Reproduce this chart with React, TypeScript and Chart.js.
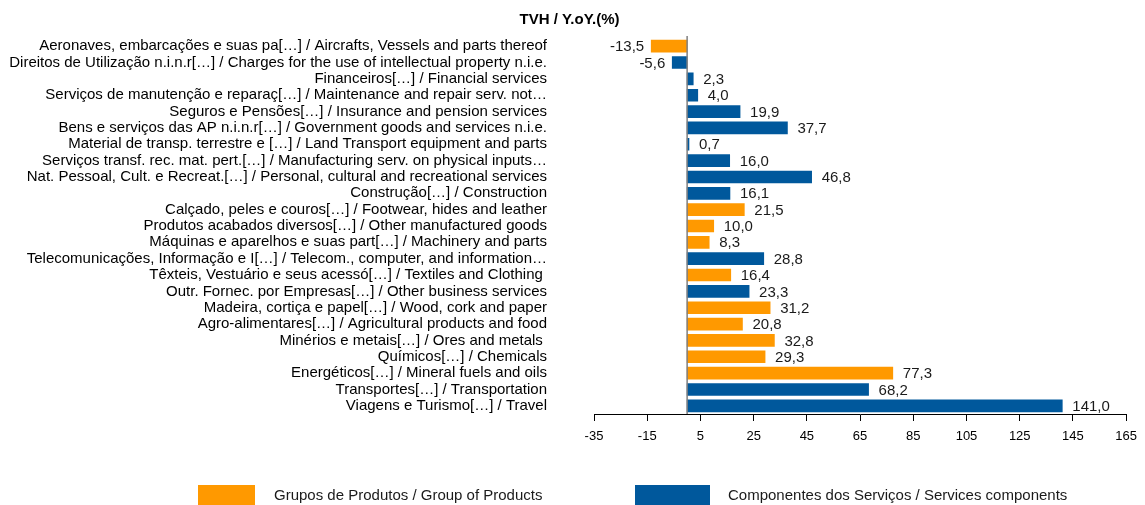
import React, { useEffect, useRef } from "react";
import { Chart, registerables } from "chart.js";

Chart.register(...registerables);

const TITLE = "TVH / Y.oY.(%)";

const categories: string[] = [
  "Aeronaves, embarcações e suas pa[…] / Aircrafts, Vessels and parts thereof",
  "Direitos de Utilização n.i.n.r[…] / Charges for the use of intellectual property n.i.e.",
  "Financeiros[…] / Financial services",
  "Serviços de manutenção e reparaç[…] / Maintenance and repair serv. not…",
  "Seguros e Pensões[…] / Insurance and pension services",
  "Bens e serviços das AP n.i.n.r[…] / Government goods and services n.i.e.",
  "Material de transp. terrestre e […] / Land Transport equipment and parts",
  "Serviços transf. rec. mat. pert.[…] / Manufacturing serv. on physical inputs…",
  "Nat. Pessoal, Cult. e Recreat.[…] / Personal, cultural and recreational services",
  "Construção[…] / Construction",
  "Calçado, peles e couros[…] / Footwear, hides and leather",
  "Produtos acabados diversos[…] / Other manufactured goods",
  "Máquinas e aparelhos e suas part[…] / Machinery and parts",
  "Telecomunicações, Informação e I[…] / Telecom., computer, and information…",
  "Têxteis, Vestuário e seus acessó[…] / Textiles and Clothing ",
  "Outr. Fornec. por Empresas[…] / Other business services",
  "Madeira, cortiça e papel[…] / Wood, cork and paper",
  "Agro-alimentares[…] / Agricultural products and food",
  "Minérios e metais[…] / Ores and metals ",
  "Químicos[…] / Chemicals",
  "Energéticos[…] / Mineral fuels and oils",
  "Transportes[…] / Transportation",
  "Viagens e Turismo[…] / Travel",
];

const values: number[] = [
  -13.5, -5.6, 2.3, 4.0, 19.9, 37.7, 0.7, 16.0, 46.8, 16.1, 21.5, 10.0, 8.3,
  28.8, 16.4, 23.3, 31.2, 20.8, 32.8, 29.3, 77.3, 68.2, 141.0,
];

// "P" = Grupos de Produtos, "S" = Componentes dos Serviços
const groups: string[] = [
  "P", "S", "S", "S", "S", "S", "S", "S", "S", "S", "P", "P", "P",
  "S", "P", "S", "P", "P", "P", "P", "P", "S", "S",
];

const seriesLabels: string[] = [
  "Grupos de Produtos / Group of Products",
  "Componentes dos Serviços / Services components",
];

const xTicks: number[] = [-35, -15, 5, 25, 45, 65, 85, 105, 125, 145, 165];

const ORANGE = "#FF9900";
const BLUE = "#00589C";
const FONT = "'Liberation Sans', Arial, sans-serif";

const fmt = (v: number) => v.toFixed(1).replace(".", ",");

const valueLabelPlugin = {
  id: "valueLabels",
  afterDatasetsDraw(chart: any) {
    const ctx = chart.ctx;
    ctx.save();
    ctx.font = `15px ${FONT}`;
    ctx.fillStyle = "#1a1a1a";
    ctx.textBaseline = "middle";
    chart.data.datasets.forEach((ds: any, di: number) => {
      const meta = chart.getDatasetMeta(di);
      meta.data.forEach((el: any, i: number) => {
        const v = ds.data[i];
        if (v === null || v === undefined) return;
        if (v < 0) {
          ctx.textAlign = "right";
          ctx.fillText(fmt(v), el.x - 7, el.y + 1);
        } else {
          ctx.textAlign = "left";
          ctx.fillText(fmt(v), el.x + 10, el.y + 1);
        }
      });
    });
    ctx.restore();
  },
};

const zeroLinePlugin = {
  id: "zeroLine",
  afterDatasetsDraw(chart: any) {
    const x = chart.scales.x.getPixelForValue(0);
    const { top, bottom } = chart.chartArea;
    const ctx = chart.ctx;
    ctx.save();
    ctx.strokeStyle = "#7f7f7f";
    ctx.lineWidth = 1.5;
    ctx.beginPath();
    ctx.moveTo(x, top - 2);
    ctx.lineTo(x, bottom);
    ctx.stroke();
    ctx.restore();
  },
};

const legendPlugin = {
  id: "customLegend",
  afterDraw(chart: any) {
    const ctx = chart.ctx;
    const items = [
      { boxX: 198, boxW: 57, textX: 274 },
      { boxX: 635, boxW: 75, textX: 728 },
    ];
    ctx.save();
    ctx.font = `15px ${FONT}`;
    ctx.textBaseline = "middle";
    ctx.textAlign = "left";
    chart.data.datasets.forEach((ds: any, i: number) => {
      const it = items[i];
      ctx.fillStyle = ds.backgroundColor;
      ctx.fillRect(it.boxX, 485, it.boxW, 20);
      ctx.fillStyle = "#1a1a1a";
      ctx.fillText(ds.label, it.textX, 496);
    });
    ctx.restore();
  },
};

export default function App() {
  const ref = useRef<HTMLCanvasElement>(null);

  useEffect(() => {
    document.body.style.margin = "0";
    const products = values.map((v, i) => (groups[i] === "P" ? v : null));
    const services = values.map((v, i) => (groups[i] === "S" ? v : null));
    const chart = new Chart(ref.current as HTMLCanvasElement, {
      type: "bar",
      data: {
        labels: categories,
        datasets: [
          {
            label: seriesLabels[0],
            data: products,
            backgroundColor: ORANGE,
            grouped: false,
            barThickness: 12,
          } as any,
          {
            label: seriesLabels[1],
            data: services,
            backgroundColor: BLUE,
            grouped: false,
            barThickness: 12,
          } as any,
        ],
      },
      options: {
        indexAxis: "y",
        animation: false,
        responsive: false,
        maintainAspectRatio: false,
        layout: { padding: { left: 8, right: 14, top: 0, bottom: 0 } },
        plugins: {
          legend: { display: false },
          tooltip: { enabled: false },
          title: {
            display: true,
            text: TITLE,
            color: "#000",
            font: { family: FONT, size: 15, weight: "bold" },
            padding: { top: 11, bottom: 9 },
          },
        },
        scales: {
          x: {
            type: "linear",
            min: xTicks[0],
            max: xTicks[xTicks.length - 1],
            afterBuildTicks: (scale: any) => {
              scale.ticks = xTicks.map((v) => ({ value: v }));
            },
            afterFit: (scale: any) => {
              scale.height = 91;
            },
            grid: {
              drawOnChartArea: false,
              drawTicks: true,
              tickLength: 7,
              color: "#000",
            },
            border: { display: true, color: "#000", width: 1 },
            ticks: {
              color: "#000",
              font: { family: FONT, size: 13 },
              padding: 8,
              maxRotation: 0,
              autoSkip: false,
              callback: (v: any) => String(v),
            },
          },
          y: {
            afterFit: (scale: any) => {
              scale.width = 586;
            },
            grid: {
              display: false,
              drawOnChartArea: false,
              drawTicks: true,
              tickLength: 44,
              color: "rgba(0,0,0,0)",
            },
            border: { display: false },
            ticks: {
              color: "#000",
              font: { family: FONT, size: 15 },
              padding: 3,
              autoSkip: false,
            },
          },
        },
      },
      plugins: [zeroLinePlugin, valueLabelPlugin, legendPlugin],
    });
    return () => chart.destroy();
  }, []);

  return (
    <div style={{ width: 1145, height: 505 }}>
      <canvas ref={ref} width={1145} height={505} />
    </div>
  );
}
